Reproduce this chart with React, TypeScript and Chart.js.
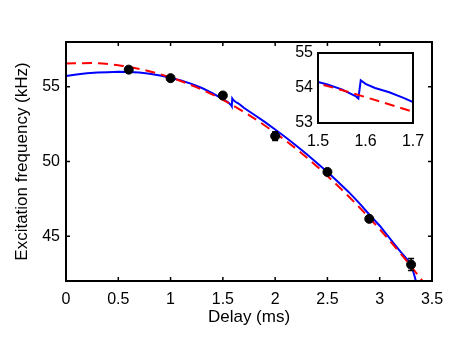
import React, { useEffect, useRef } from "react";
import { Chart, registerables } from "chart.js";

Chart.register(...registerables);

// ---- data ----
const delayPoints = [0.6, 1.0, 1.5, 2.0, 2.5, 2.9, 3.3];
const freqPoints = [56.15, 55.58, 54.42, 51.7, 49.3, 46.16, 43.1];
const freqErrors = [0.12, 0.1, 0.18, 0.3, 0.1, 0.1, 0.4];

const blueX = [0, 0.1, 0.2, 0.3, 0.4, 0.5, 0.6, 0.7, 0.8, 0.9, 1.0, 1.1, 1.2, 1.3, 1.4, 1.5, 1.52, 1.55, 1.58, 1.585, 1.59, 1.6, 1.62, 1.65, 1.68, 1.7, 1.8, 1.9, 2.0, 2.1, 2.2, 2.3, 2.4, 2.5, 2.6, 2.7, 2.8, 2.9, 3.0, 3.1, 3.2, 3.3, 3.35];
const blueY = [55.72, 55.82, 55.9, 55.95, 55.98, 56.0, 55.99, 55.95, 55.88, 55.76, 55.6, 55.42, 55.2, 54.92, 54.58, 54.17, 54.1, 53.96, 53.76, 53.7, 54.22, 54.12, 54.0, 53.88, 53.72, 53.6, 53.13, 52.65, 52.14, 51.62, 51.07, 50.5, 49.9, 49.3, 48.65, 47.98, 47.25, 46.45, 45.7, 44.82, 43.95, 43.15, 41.9];

const redX = [0, 0.25, 0.5, 0.75, 1.0, 1.25, 1.5, 1.6, 1.7, 1.75, 2.0, 2.25, 2.5, 2.75, 3.0, 3.25, 3.42];
const redY = [56.56, 56.59, 56.44, 56.12, 55.63, 54.96, 54.13, 53.74, 53.32, 53.11, 51.92, 50.57, 49.03, 47.33, 45.46, 43.41, 41.9];

const mainXTicks = [0, 0.5, 1, 1.5, 2, 2.5, 3, 3.5];
const mainYTicks = [45, 50, 55];
const insetXTicks = [1.5, 1.6, 1.7];
const insetYTicks = [53, 54, 55];

const FONT = "'Liberation Sans', Arial, Helvetica, sans-serif";

const toXY = (xs: number[], ys: number[]) => xs.map((x, i) => ({ x, y: ys[i] }));

const framePlugin = (tickLen: number, xTicks: number[], yTicks: number[], fill: boolean) => ({
  id: "frame",
  beforeDraw(chart: any) {
    if (!fill) return;
    const { ctx, chartArea: a } = chart;
    ctx.save();
    ctx.fillStyle = "#fff";
    ctx.fillRect(a.left, a.top, a.right - a.left, a.bottom - a.top);
    ctx.restore();
  },
  afterDraw(chart: any) {
    const { ctx, chartArea: a, scales } = chart;
    ctx.save();
    ctx.strokeStyle = "#000";
    ctx.lineWidth = 2;
    ctx.strokeRect(a.left, a.top, a.right - a.left, a.bottom - a.top);
    if (tickLen > 0) {
      ctx.lineWidth = 1.5;
      ctx.beginPath();
      xTicks.forEach((v) => {
        const px = scales.x.getPixelForValue(v);
        ctx.moveTo(px, a.bottom);
        ctx.lineTo(px, a.bottom - tickLen);
        ctx.moveTo(px, a.top);
        ctx.lineTo(px, a.top + tickLen);
      });
      yTicks.forEach((v) => {
        const py = scales.y.getPixelForValue(v);
        ctx.moveTo(a.left, py);
        ctx.lineTo(a.left + tickLen, py);
        ctx.moveTo(a.right, py);
        ctx.lineTo(a.right - tickLen, py);
      });
      ctx.stroke();
    }
    ctx.restore();
  },
});

const errorBarPlugin = {
  id: "errbars",
  afterDatasetsDraw(chart: any) {
    const { ctx, scales } = chart;
    ctx.save();
    ctx.strokeStyle = "#000";
    ctx.lineWidth = 1.5;
    ctx.beginPath();
    delayPoints.forEach((x, i) => {
      const px = scales.x.getPixelForValue(x);
      const y1 = scales.y.getPixelForValue(freqPoints[i] - freqErrors[i]);
      const y2 = scales.y.getPixelForValue(freqPoints[i] + freqErrors[i]);
      ctx.moveTo(px, y1);
      ctx.lineTo(px, y2);
      ctx.moveTo(px - 3, y1);
      ctx.lineTo(px + 3, y1);
      ctx.moveTo(px - 3, y2);
      ctx.lineTo(px + 3, y2);
    });
    ctx.stroke();
    ctx.restore();
  },
};

export default function App() {
  const mainRef = useRef<HTMLCanvasElement>(null);
  const insetRef = useRef<HTMLCanvasElement>(null);

  useEffect(() => {
    document.body.style.margin = "0";
    const main = new Chart(mainRef.current!, {
      type: "scatter",
      data: {
        datasets: [
          {
            data: toXY(delayPoints, freqPoints),
            pointRadius: 4.5,
            pointBackgroundColor: "#000",
            pointBorderColor: "#000",
            showLine: false,
          },
          {
            data: toXY(redX, redY),
            showLine: true,
            borderColor: "rgb(255,0,0)",
            borderWidth: 2,
            borderDash: [10, 6],
            pointRadius: 0,
            cubicInterpolationMode: "monotone",
          },
          {
            data: toXY(blueX, blueY),
            showLine: true,
            borderColor: "rgb(0,0,255)",
            borderWidth: 2,
            pointRadius: 0,
          },
        ],
      } as any,
      options: {
        responsive: false,
        animation: false,
        events: [],
        layout: { padding: { left: 0, top: 42, right: 37, bottom: 0 } },
        plugins: { legend: { display: false }, tooltip: { enabled: false } },
        scales: {
          x: {
            type: "linear",
            min: 0,
            max: 3.5,
            grid: { display: false, drawTicks: false },
            border: { display: false },
            afterBuildTicks: (s: any) => {
              s.ticks = mainXTicks.map((v) => ({ value: v }));
            },
            afterFit: (s: any) => {
              s.height = 73;
            },
            ticks: {
              padding: 9,
              color: "#000",
              font: { family: FONT, size: 16 },
              maxRotation: 0,
              callback: (v: any) => String(Number(v)),
            },
            title: {
              display: true,
              text: "Delay (ms)",
              color: "#000",
              font: { family: FONT, size: 17 },
              padding: { top: 26, bottom: 26 },
            },
          },
          y: {
            type: "linear",
            min: 42,
            max: 58,
            grid: { display: false, drawTicks: false },
            border: { display: false },
            afterBuildTicks: (s: any) => {
              s.ticks = mainYTicks.map((v) => ({ value: v }));
            },
            afterFit: (s: any) => {
              s.width = 66;
            },
            ticks: {
              padding: 6,
              color: "#000",
              font: { family: FONT, size: 16 },
              callback: (v: any) => String(Number(v)),
            },
            title: {
              display: true,
              text: "Excitation frequency (kHz)",
              color: "#000",
              font: { family: FONT, size: 17 },
              padding: { top: 12, bottom: 12 },
            },
          },
        },
      } as any,
      plugins: [framePlugin(4, mainXTicks, mainYTicks, false), errorBarPlugin],
    });

    const inset = new Chart(insetRef.current!, {
      type: "scatter",
      data: {
        datasets: [
          {
            data: toXY(redX, redY),
            showLine: true,
            borderColor: "rgb(255,0,0)",
            borderWidth: 2,
            borderDash: [10, 6],
            pointRadius: 0,
            cubicInterpolationMode: "monotone",
          },
          {
            data: toXY(blueX, blueY),
            showLine: true,
            borderColor: "rgb(0,0,255)",
            borderWidth: 2,
            pointRadius: 0,
          },
        ],
      } as any,
      options: {
        responsive: false,
        animation: false,
        events: [],
        layout: { padding: { left: 288, top: 53, right: 56, bottom: 207 } },
        plugins: { legend: { display: false }, tooltip: { enabled: false } },
        scales: {
          x: {
            type: "linear",
            min: 1.5,
            max: 1.7,
            grid: { display: false, drawTicks: false },
            border: { display: false },
            afterBuildTicks: (s: any) => {
              s.ticks = insetXTicks.map((v) => ({ value: v }));
            },
            afterFit: (s: any) => {
              s.height = 24;
            },
            ticks: {
              padding: 9,
              color: "#000",
              font: { family: FONT, size: 16 },
              maxRotation: 0,
              callback: (v: any) => Number(v).toFixed(1),
            },
          },
          y: {
            type: "linear",
            min: 53,
            max: 55,
            grid: { display: false, drawTicks: false },
            border: { display: false },
            afterBuildTicks: (s: any) => {
              s.ticks = insetYTicks.map((v) => ({ value: v }));
            },
            afterFit: (s: any) => {
              s.width = 30;
            },
            ticks: {
              padding: 5,
              color: "#000",
              font: { family: FONT, size: 16 },
              callback: (v: any) => String(Number(v)),
            },
          },
        },
      } as any,
      plugins: [framePlugin(0, insetXTicks, insetYTicks, true)],
    });

    return () => {
      main.destroy();
      inset.destroy();
    };
  }, []);

  return (
    <div style={{ position: "fixed", left: 0, top: 0, width: 469, height: 354, background: "#fff" }}>
      <canvas ref={mainRef} width={469} height={354} style={{ position: "absolute", left: 0, top: 0 }} />
      <canvas ref={insetRef} width={469} height={354} style={{ position: "absolute", left: 0, top: 0 }} />
    </div>
  );
}
